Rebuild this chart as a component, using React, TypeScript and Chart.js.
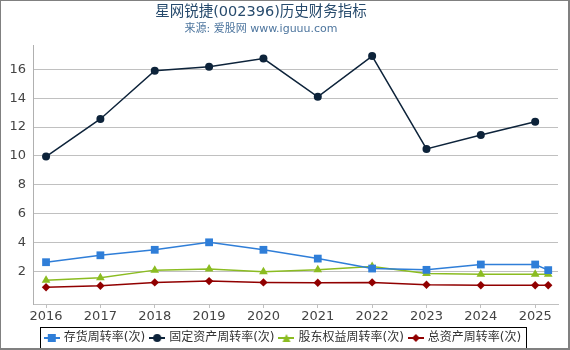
import React, { useEffect, useRef } from "react";
import { Chart, registerables } from "chart.js";

Chart.register(...registerables);

const years = [2016, 2017, 2018, 2019, 2020, 2021, 2022, 2023, 2024, 2025, 2025.24];
const tickYears = [2016, 2017, 2018, 2019, 2020, 2021, 2022, 2023, 2024, 2025];
const yTicks = [2, 4, 6, 8, 10, 12, 14, 16];

const inventoryTurnover = [2.62, 3.1, 3.48, 4.0, 3.48, 2.87, 2.18, 2.09, 2.46, 2.46, 2.07];
const fixedAssetTurnover = [9.95, 12.56, 15.9, 16.18, 16.75, 14.1, 16.92, 10.48, 11.45, 12.37, null];
const equityTurnover = [1.36, 1.54, 2.07, 2.14, 1.96, 2.09, 2.33, 1.84, 1.78, 1.78, 1.78];
const totalAssetTurnover = [0.88, 0.99, 1.22, 1.31, 1.22, 1.19, 1.22, 1.06, 1.02, 1.02, 1.02];

const seriesNames = ["存货周转率(次)", "固定资产周转率(次)", "股东权益周转率(次)", "总资产周转率(次)"];
const seriesColors = ["#2f7ed8", "#0d233a", "#8bbc21", "#910000"];
const seriesStyles = ["rect", "circle", "triangle", "rectRot"];
const seriesRadius = [5.5, 4, 5, 4.2];
const seriesValues = [inventoryTurnover, fixedAssetTurnover, equityTurnover, totalAssetTurnover];

const FONT = "'DejaVu Sans', 'Noto Sans CJK SC', sans-serif";

function makeSymbol(color: string, style: string): HTMLCanvasElement {
  const c = document.createElement("canvas");
  c.width = 16;
  c.height = 12;
  const ctx = c.getContext("2d")!;
  ctx.strokeStyle = color;
  ctx.fillStyle = color;
  ctx.lineWidth = 2;
  ctx.beginPath();
  ctx.moveTo(0, 6);
  ctx.lineTo(16, 6);
  ctx.stroke();
  ctx.beginPath();
  if (style === "rect") {
    ctx.rect(4, 2, 8, 8);
  } else if (style === "circle") {
    ctx.arc(8, 6, 4, 0, Math.PI * 2);
  } else if (style === "triangle") {
    ctx.moveTo(8, 2);
    ctx.lineTo(12, 10);
    ctx.lineTo(4, 10);
    ctx.closePath();
  } else {
    ctx.moveTo(8, 2);
    ctx.lineTo(12, 6);
    ctx.lineTo(8, 10);
    ctx.lineTo(4, 6);
    ctx.closePath();
  }
  ctx.fill();
  return c;
}

const legendBorder = {
  id: "legendBorder",
  afterDraw(chart: any) {
    const lg = chart.legend;
    if (!lg || !lg.legendHitBoxes || !lg.legendHitBoxes.length) return;
    const hb = lg.legendHitBoxes;
    const left = Math.min(...hb.map((h: any) => h.left)) - 6;
    const right = Math.max(...hb.map((h: any) => h.left + h.width)) + 5;
    const cy = hb[0].top + hb[0].height / 2;
    const ctx = chart.ctx;
    ctx.save();
    ctx.strokeStyle = "#000";
    ctx.lineWidth = 1;
    ctx.strokeRect(Math.round(left) + 0.5, Math.round(cy - 11) + 0.5, Math.round(right - left), 21);
    ctx.restore();
  },
};

export default function App() {
  const ref = useRef<HTMLCanvasElement>(null);

  useEffect(() => {
    if (!ref.current) return;
    Chart.defaults.font.family = FONT;
    const symbols = seriesColors.map((c, i) => makeSymbol(c, seriesStyles[i]));
    const datasets = seriesNames.map((name, i) => ({
      label: name,
      data: years
        .map((x, j) => ({ x, y: seriesValues[i][j] }))
        .filter((p) => p.y !== null && p.y !== undefined),
      borderColor: seriesColors[i],
      backgroundColor: seriesColors[i],
      borderWidth: 1.5,
      pointStyle: seriesStyles[i],
      pointRadius: seriesRadius[i],
      pointBackgroundColor: seriesColors[i],
      pointBorderColor: seriesColors[i],
      pointBorderWidth: 0,
      tension: 0,
      order: i === 1 ? 0 : 1,
    }));

    const chart = new Chart(ref.current, {
      type: "line",
      data: { datasets },
      options: {
        animation: false,
        responsive: false,
        maintainAspectRatio: false,
        layout: { padding: { top: 45, left: 9, right: 12, bottom: -4 } },
        plugins: {
          title: { display: false },
          tooltip: { enabled: false },
          legend: {
            position: "bottom",
            labels: {
              usePointStyle: true,
              pointStyleWidth: 12,
              padding: 6,
              color: "#333",
              font: { size: 12, family: FONT },
              generateLabels: (ch: any) =>
                ch.data.datasets.map((ds: any, i: number) => ({
                  text: ds.label,
                  fillStyle: seriesColors[i],
                  strokeStyle: seriesColors[i],
                  lineWidth: 0,
                  pointStyle: symbols[i],
                  hidden: false,
                  datasetIndex: i,
                  fontColor: "#333",
                })),
            },
          },
        },
        scales: {
          x: {
            type: "linear",
            min: 2015.76,
            max: 2025.42,
            afterBuildTicks: (s: any) => {
              s.ticks = tickYears.map((v) => ({ value: v }));
            },
            afterFit: (s: any) => {
              s.height = 22;
            },
            ticks: {
              autoSkip: false,
              maxRotation: 0,
              padding: 1,
              color: "#444",
              font: { size: 13, family: FONT },
              callback: (v: any) => String(v),
            },
            grid: {
              drawOnChartArea: false,
              drawTicks: true,
              tickLength: 4,
              color: "#c0c0c0",
            },
            border: { color: "#c0c0c0", width: 1 },
          },
          y: {
            type: "linear",
            min: -0.28,
            max: 17.69,
            afterBuildTicks: (s: any) => {
              s.ticks = yTicks.map((v) => ({ value: v }));
            },
            afterFit: (s: any) => {
              s.width = 24;
            },
            ticks: {
              padding: 7,
              color: "#444",
              font: { size: 13, family: FONT },
              callback: (v: any) => String(v),
            },
            grid: {
              drawTicks: false,
              color: "#c0c0c0",
              lineWidth: 1,
            },
            border: { color: "#b0b0b0", width: 1 },
          },
        },
      },
      plugins: [legendBorder],
    } as any);
    return () => chart.destroy();
  }, []);

  return (
    <div style={{ position: "fixed", left: 0, top: 0, width: 570, height: 350, background: "#fff" }}>
      <canvas ref={ref} width={570} height={350} style={{ position: "absolute", left: 0, top: 0 }} />
      <div
        style={{
          position: "absolute",
          left: 0,
          top: 0,
          width: 522,
          textAlign: "center",
          fontFamily: FONT,
          fontSize: 14.5,
          lineHeight: "22px",
          color: "#274b6d",
          whiteSpace: "nowrap",
        }}
      >
        星网锐捷(002396)历史财务指标
      </div>
      <div
        style={{
          position: "absolute",
          left: 0,
          top: 21.5,
          width: 522,
          textAlign: "center",
          fontFamily: FONT,
          fontSize: 11,
          lineHeight: "14px",
          color: "#4d759e",
          whiteSpace: "nowrap",
        }}
      >
        来源: 爱股网 www.iguuu.com
      </div>
      <div
        style={{
          position: "absolute",
          left: 0,
          top: 0,
          width: 570,
          height: 350,
          boxSizing: "border-box",
          borderLeft: "1px solid #808080",
          borderTop: "1px solid #808080",
          borderRight: "2px solid #808080",
          borderBottom: "2px solid #808080",
          pointerEvents: "none",
        }}
      />
    </div>
  );
}
